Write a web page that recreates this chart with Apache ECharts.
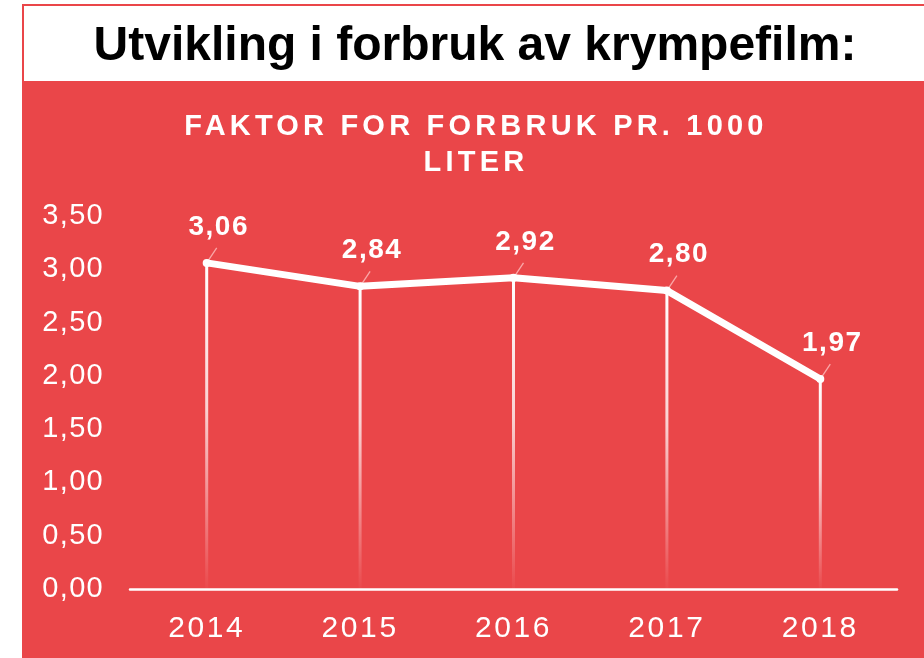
<!DOCTYPE html>
<html>
<head>
<meta charset="utf-8">
<style>
html,body{margin:0;padding:0;background:#fff;}
#chart{width:924px;height:658px;}
</style>
<script src="https://cdn.jsdelivr.net/npm/echarts@6/dist/echarts.min.js"></script>
</head>
<body>
<div id="chart"></div>
<script>
// ---- data ----
const headerTitle = 'Utvikling i forbruk av krympefilm:';
const chartTitle = 'FAKTOR FOR FORBRUK PR. 1000\nLITER';
const years = ['2014', '2015', '2016', '2017', '2018'];
const factor = [3.06, 2.84, 2.92, 2.80, 1.97];
const yTicks = [0, 0.5, 1, 1.5, 2, 2.5, 3, 3.5];

// letter spacing by font (canvas text)
(function () {
  const proto = CanvasRenderingContext2D.prototype;
  const orig = proto.fillText;
  if (!('letterSpacing' in proto)) return;
  proto.fillText = function (t, x, y, w) {
    const f = this.font || '';
    let ls = '0px';
    if (/bold 29px/.test(f)) ls = '4.2px';
    else if (/bold 28px/.test(f)) ls = '1.5px';
    else if (/(^|\s)30px/.test(f)) ls = '2.6px';
    else if (/(^|\s)29px/.test(f)) ls = '1.3px';
    const prev = this.letterSpacing;
    this.letterSpacing = ls;
    const r = (w === undefined) ? orig.call(this, t, x, y) : orig.call(this, t, x, y, w);
    this.letterSpacing = prev;
    return r;
  };
})();

const RED = '#EA4649';
const fmt = v => v.toFixed(2).replace('.', ',');

const chart = echarts.init(document.getElementById('chart'), null, {renderer: 'canvas'});
chart.setOption({
  backgroundColor: '#ffffff',
  animation: false,
  graphic: [
    {type: 'rect', z: -10, shape: {x: 22, y: 83, width: 902, height: 575}, style: {fill: RED}},
    {type: 'rect', z: -10, shape: {x: 23, y: 5, width: 920, height: 77}, style: {fill: '#ffffff', stroke: RED, lineWidth: 2}}
  ],
  title: [
    {
      text: headerTitle, left: 475, top: 23, textAlign: 'center', padding: 0,
      textStyle: {fontFamily: 'Liberation Sans', fontWeight: 'bold', fontSize: 48, lineHeight: 48, color: '#000000'}
    },
    {
      text: chartTitle, left: 476, top: 109, textAlign: 'center', padding: 0,
      textStyle: {fontFamily: 'Liberation Sans', fontWeight: 'bold', fontSize: 29, lineHeight: 36, color: '#ffffff'}
    }
  ],
  grid: {left: 130, right: 27, top: 216, bottom: 69, containLabel: false},
  xAxis: {
    type: 'category',
    data: years,
    boundaryGap: true,
    axisLine: {show: true, lineStyle: {color: '#ffffff', width: 2.5}},
    axisTick: {show: false},
    splitLine: {show: false},
    axisLabel: {
      interval: 0, margin: 25, color: '#ffffff',
      fontFamily: 'Liberation Sans', fontSize: 30, lineHeight: 30
    }
  },
  yAxis: {
    type: 'value',
    min: yTicks[0],
    max: yTicks[yTicks.length - 1],
    interval: yTicks[1] - yTicks[0],
    axisLine: {show: false},
    axisTick: {show: false},
    splitLine: {show: false},
    axisLabel: {
      margin: 26, color: '#ffffff',
      fontFamily: 'Liberation Sans', fontSize: 29,
      formatter: v => fmt(v)
    }
  },
  series: [
    {
      type: 'bar',
      data: factor,
      barWidth: 3,
      z: 1,
      itemStyle: {
        color: new echarts.graphic.LinearGradient(0, 0, 0, 1, [
          {offset: 0, color: 'rgba(255,255,255,1)'},
          {offset: 0.45, color: 'rgba(255,255,255,0.75)'},
          {offset: 1, color: 'rgba(255,255,255,0.02)'}
        ])
      },
      silent: true
    },
    {
      type: 'custom',
      z: 2,
      silent: true,
      data: factor.map((v, i) => [i, v]),
      renderItem: function (params, api) {
        const p = api.coord([api.value(0), api.value(1)]);
        return {
          type: 'line',
          shape: {x1: p[0] + 2, y1: p[1] - 3, x2: p[0] + 10, y2: p[1] - 15},
          style: {stroke: 'rgba(255,200,200,0.75)', lineWidth: 1.3}
        };
      }
    },
    {
      type: 'line',
      data: factor,
      z: 3,
      symbol: 'circle',
      symbolSize: 8,
      lineStyle: {color: '#ffffff', width: 7},
      itemStyle: {color: '#ffffff'},
      label: {
        show: true,
        position: 'inside',
        offset: [12, -36],
        color: '#ffffff',
        fontFamily: 'Liberation Sans',
        fontWeight: 'bold',
        fontSize: 28,
        formatter: p => fmt(p.value)
      }
    }
  ]
});
</script>
</body>
</html>
